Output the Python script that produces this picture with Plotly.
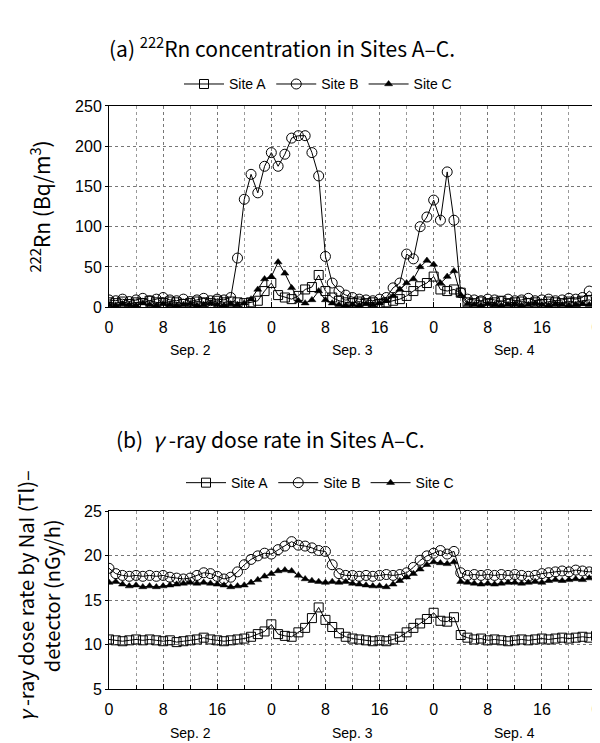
import plotly.graph_objects as go

# ---------------- data ----------------
hours = list(range(0, 73))
x_tick_vals = [0, 8, 16, 24, 32, 40, 48, 56, 64, 72]
x_tick_text = ["0", "8", "16", "0", "8", "16", "0", "8", "16", "0"]
day_labels = ["Sep. 2", "Sep. 3", "Sep. 4"]
day_centers = [12, 36, 60]
series_names = ["Site A", "Site B", "Site C"]

# (a) 222Rn concentration (Bq/m3)
rn_a = [6, 5, 7, 4, 6, 5, 8, 6, 5, 7, 6, 4, 5, 7, 6, 5, 8, 6,
        7, 6, 5, 6, 8, 20, 30, 15, 12, 10, 14, 22, 25, 40, 20, 12, 8, 6,
        5, 7, 5, 6, 4, 6, 8, 10, 14, 20, 26, 30, 38, 22, 20, 22, 18, 6,
        5, 7, 5, 6, 8, 5, 6, 7, 5, 6, 4, 7, 6, 5, 7, 6, 8, 9, 7]
rn_b = [9, 8, 10, 7, 9, 11, 8, 10, 12, 9, 8, 10, 7, 9, 11, 8, 10, 9,
        12, 61, 134, 165, 142, 175, 192, 175, 190, 210, 213, 213, 192, 163, 63, 30, 20, 15,
        12, 10, 9, 8, 10, 12, 24, 30, 66, 60, 100, 112, 133, 108, 168, 108, 18, 10,
        9, 8, 10, 9, 7, 10, 8, 9, 11, 8, 9, 10, 8, 9, 11, 10, 12, 20, 13]
rn_c = [3, 2, 4, 3, 2, 5, 3, 2, 4, 3, 2, 3, 4, 2, 3, 5, 3, 2,
        4, 3, 5, 10, 22, 35, 38, 56, 42, 24, 8, 5, 9, 20, 9, 5, 3, 2,
        3, 2, 4, 3, 5, 8, 14, 22, 30, 35, 50, 58, 53, 30, 38, 45, 15, 4,
        3, 2, 4, 3, 2, 3, 4, 2, 3, 5, 3, 2, 4, 3, 2, 3, 4, 3, 5]
rn_ticks = [0, 50, 100, 150, 200, 250]

# (b) gamma-ray dose rate (nGy/h)
dose_a = [10.6, 10.5, 10.4, 10.5, 10.6, 10.5, 10.6, 10.5, 10.4, 10.5, 10.3, 10.4,
          10.5, 10.6, 10.8, 10.6, 10.5, 10.4, 10.5, 10.6, 10.7, 10.9, 11.2, 11.5,
          12.3, 11.2, 11.0, 10.9, 11.4, 11.9, 13.0, 14.2, 12.8, 12.0, 11.3, 10.9,
          10.7, 10.6, 10.5, 10.4, 10.5, 10.4, 10.6, 10.9, 11.4, 11.9, 12.4, 12.9,
          13.6, 12.7, 12.6, 13.1, 11.1, 10.8, 10.6, 10.7, 10.5, 10.6, 10.5, 10.4,
          10.5, 10.6, 10.5, 10.6, 10.7, 10.6, 10.7, 10.8, 10.7, 10.8, 10.9, 10.8, 11.0]
dose_b = [18.6, 18.0, 17.8, 17.7, 17.8, 17.7, 17.8, 17.7, 17.8, 17.6, 17.5, 17.4,
          17.5, 17.8, 18.1, 18.0, 17.7, 17.4, 17.6, 18.2, 19.0, 19.6, 20.0, 20.3,
          20.2, 20.7, 21.1, 21.6, 21.2, 21.1, 20.9, 20.6, 20.5, 19.0, 18.0, 17.8,
          17.8, 17.7, 17.8, 17.7, 17.8, 17.9, 17.8, 17.9, 18.1, 18.7, 19.5, 20.0,
          20.3, 20.6, 20.2, 20.5, 18.1, 17.8, 17.9, 17.8, 17.9, 17.8, 17.9, 17.8,
          17.9, 17.8, 17.7, 17.8, 18.0, 18.1, 18.2, 18.3, 18.2, 18.4, 18.3, 18.2, 18.3]
dose_c = [17.0, 17.1, 16.8, 16.6, 16.7, 16.5, 16.6, 16.5, 16.6, 16.7, 16.8, 16.9,
          17.0, 16.9, 17.0, 16.9, 16.8, 16.7, 16.5, 16.6, 16.7, 17.0, 17.3, 17.7,
          18.0, 18.3, 18.4, 18.3, 17.8, 17.4, 17.2, 17.1, 17.0, 17.1, 17.0, 17.1,
          16.9, 16.8, 16.7, 16.6, 16.6, 16.5, 16.8, 17.2, 17.6, 18.0, 18.5, 19.0,
          19.3, 19.2, 19.1, 19.3, 17.1, 17.0, 16.9, 16.8, 16.9, 16.8, 16.9, 17.0,
          17.0, 16.9, 17.0, 17.1, 17.0, 17.2, 17.3, 17.2, 17.3, 17.4, 17.3, 17.5, 17.4]
dose_ticks = [5, 10, 15, 20, 25]

# ---------------- figure ----------------
W, H = 600, 743
ML, MR = 101, 12
def py(pix):
    return 1 - pix / H
def px(pix):
    return (pix - ML) / (W - ML - MR)

markers = [
    dict(symbol="square-open", size=9, color="black", line=dict(width=1, color="black")),
    dict(symbol="circle-open", size=10, color="black", line=dict(width=1, color="black")),
    dict(symbol="triangle-up", size=7, color="black", line=dict(width=0.5, color="black")),
]

fig = go.Figure()
for name, ys, mk in zip(series_names, [rn_a, rn_b, rn_c], markers):
    fig.add_trace(go.Scatter(x=hours, y=ys, name=name, mode="lines+markers",
                             line=dict(color="black", width=1), marker=mk,
                             xaxis="x", yaxis="y", legend="legend"))
for name, ys, mk in zip(series_names, [dose_a, dose_b, dose_c], markers):
    fig.add_trace(go.Scatter(x=hours, y=ys, name=name, mode="lines+markers",
                             line=dict(color="black", width=1), marker=mk,
                             xaxis="x2", yaxis="y2", legend="legend2"))

tickfont = dict(family="Liberation Sans, Arial, sans-serif", size=16, color="black")
xcommon = dict(range=[0, 72], tickvals=x_tick_vals, ticktext=x_tick_text,
               showline=True, linecolor="black", linewidth=1, mirror=True,
               ticks="inside", ticklen=5, tickcolor="black", tickfont=tickfont,
               ticklabelstandoff=6, ticklabeloverflow="allow",
               showgrid=True, gridcolor="#777", griddash="dot", gridwidth=1,
               minor=dict(dtick=4, tick0=0, showgrid=True, gridcolor="#999",
                          griddash="dot", ticks="inside", ticklen=4, tickcolor="black"),
               zeroline=False)
ycommon = dict(showline=True, linecolor="black", linewidth=1, mirror=True,
               ticks="outside", ticklen=3, tickcolor="black", tickfont=tickfont,
               showgrid=True, gridcolor="#777", griddash="dot", gridwidth=1,
               zeroline=False)

fig.update_layout(
    width=W, height=H,
    margin=dict(l=ML, r=MR, t=0, b=0),
    paper_bgcolor="white", plot_bgcolor="white",
    font=dict(family="Noto Sans CJK JP, Liberation Sans, sans-serif", color="black"),
    xaxis=dict(domain=[0, 1], anchor="y", **xcommon),
    yaxis=dict(domain=[py(298), py(92)], anchor="x", range=[0, 250], tickvals=rn_ticks, **ycommon),
    xaxis2=dict(domain=[0, 1], anchor="y2", **xcommon),
    yaxis2=dict(domain=[py(689), py(507)], anchor="x2", range=[5, 25], tickvals=dose_ticks, **ycommon),
    legend=dict(orientation="h", x=px(310), y=py(70), xanchor="center", yanchor="middle",
                font=dict(size=14, family="Liberation Sans, Arial, sans-serif"),
                itemwidth=40, bgcolor="rgba(0,0,0,0)", tracegroupgap=0),
    legend2=dict(orientation="h", x=px(312), y=py(478), xanchor="center", yanchor="middle",
                 font=dict(size=14, family="Liberation Sans, Arial, sans-serif"),
                 itemwidth=40, bgcolor="rgba(0,0,0,0)", tracegroupgap=0),
    showlegend=True,
)

annots = [
    dict(text="(a) <sup>222</sup>Rn concentration in Sites A–C.", x=px(274), y=py(32),
         xref="paper", yref="paper", showarrow=False, xanchor="center", yanchor="middle",
         font=dict(size=21)),
    dict(text="(b)  <i>γ</i> -ray dose rate in Sites A–C.", x=px(262), y=py(433),
         xref="paper", yref="paper", showarrow=False, xanchor="center", yanchor="middle",
         font=dict(size=21)),
    dict(text="<sup>222</sup>Rn (Bq/m<sup>3</sup>)", x=px(32), y=py(195),
         xref="paper", yref="paper", showarrow=False, textangle=-90,
         xanchor="center", yanchor="middle", font=dict(size=21)),
    dict(text="<i>γ</i> -ray dose rate by NaI (Tl)–<br>detector (nGy/h)", x=px(30), y=py(594),
         xref="paper", yref="paper", showarrow=False, textangle=-90,
         xanchor="center", yanchor="middle", font=dict(size=20)),
]
for lab, c in zip(day_labels, day_centers):
    annots.append(dict(text=lab, x=c, y=py(342), xref="x", yref="paper", showarrow=False,
                       xanchor="center", yanchor="middle",
                       font=dict(size=14, family="Liberation Sans, Arial, sans-serif")))
    annots.append(dict(text=lab, x=c, y=py(734), xref="x2", yref="paper", showarrow=False,
                       xanchor="center", yanchor="middle",
                       font=dict(size=14, family="Liberation Sans, Arial, sans-serif")))
fig.update_layout(annotations=annots)

fig.write_html("out.html")
